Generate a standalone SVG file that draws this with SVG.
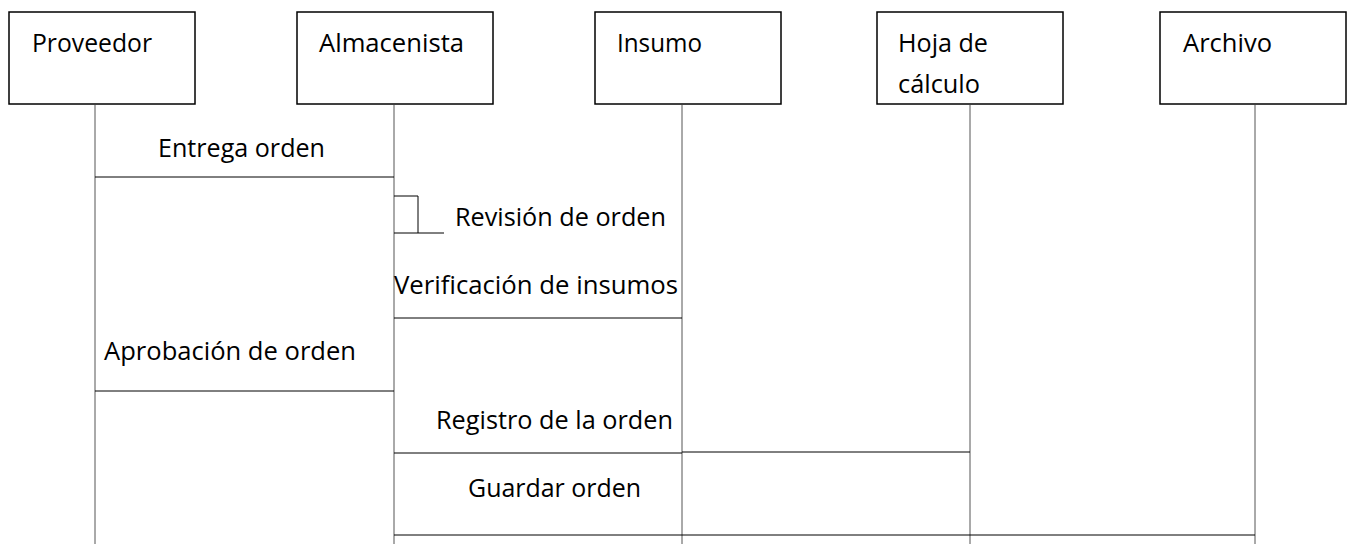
<svg xmlns="http://www.w3.org/2000/svg" width="1348" height="544" viewBox="0 0 1348 544">
<style>
.box{fill:#fff;stroke:#000;stroke-width:1.5}
.life{stroke:#555;stroke-width:1}
.msg{stroke:#000;stroke-width:1;fill:none}
text{font-family:"Open Sans","Liberation Sans",sans-serif;font-size:25px;fill:#000}
</style>
<rect width="1348" height="544" fill="#fff"/>
<g id="lifelines">
<line class="life" x1="95" y1="105" x2="95" y2="544"/>
<line class="life" x1="394" y1="105" x2="394" y2="544"/>
<line class="life" x1="682" y1="105" x2="682" y2="544"/>
<line class="life" x1="970" y1="105" x2="970" y2="544"/>
<line class="life" x1="1255" y1="105" x2="1255" y2="544"/>
</g>
<g id="proveedor"><rect class="box" x="9" y="12" width="186" height="92"/><text x="32" y="52" textLength="120" lengthAdjust="spacingAndGlyphs">Proveedor</text></g>
<g id="almacenista"><rect class="box" x="297" y="12" width="196" height="92"/><text x="319" y="52" textLength="145" lengthAdjust="spacingAndGlyphs">Almacenista</text></g>
<g id="insumo"><rect class="box" x="595" y="12" width="186" height="92"/><text x="617" y="52" textLength="85" lengthAdjust="spacingAndGlyphs">Insumo</text></g>
<g id="hoja"><rect class="box" x="877" y="12" width="186" height="92"/><text x="898" y="52" textLength="90" lengthAdjust="spacingAndGlyphs">Hoja de</text><text x="898" y="93" textLength="82" lengthAdjust="spacingAndGlyphs">cálculo</text></g>
<g id="archivo"><rect class="box" x="1160" y="12" width="186" height="92"/><text x="1183" y="52" textLength="89" lengthAdjust="spacingAndGlyphs">Archivo</text></g>
<g id="connectors">
<line class="msg" x1="95" y1="177" x2="394" y2="177"/>
<polyline class="msg" points="394,196 418,196 418,233"/>
<line class="msg" x1="394" y1="233" x2="444" y2="233"/>
<line class="msg" x1="394" y1="318" x2="682" y2="318"/>
<line class="msg" x1="95" y1="391" x2="394" y2="391"/>
<line class="msg" x1="394" y1="453" x2="682" y2="453"/>
<line class="msg" x1="682" y1="452" x2="970" y2="452"/>
<line class="msg" x1="394" y1="535" x2="1255" y2="535"/>
</g>
<g id="labels">
<text x="158" y="157" textLength="167" lengthAdjust="spacingAndGlyphs">Entrega orden</text>
<text x="455" y="226" textLength="211" lengthAdjust="spacingAndGlyphs">Revisión de orden</text>
<text x="394" y="294" textLength="284" lengthAdjust="spacingAndGlyphs">Verificación de insumos</text>
<text x="104" y="360" textLength="252" lengthAdjust="spacingAndGlyphs">Aprobación de orden</text>
<text x="436" y="429" textLength="237" lengthAdjust="spacingAndGlyphs">Registro de la orden</text>
<text x="468" y="497" textLength="173" lengthAdjust="spacingAndGlyphs">Guardar orden</text>
</g>
</svg>
